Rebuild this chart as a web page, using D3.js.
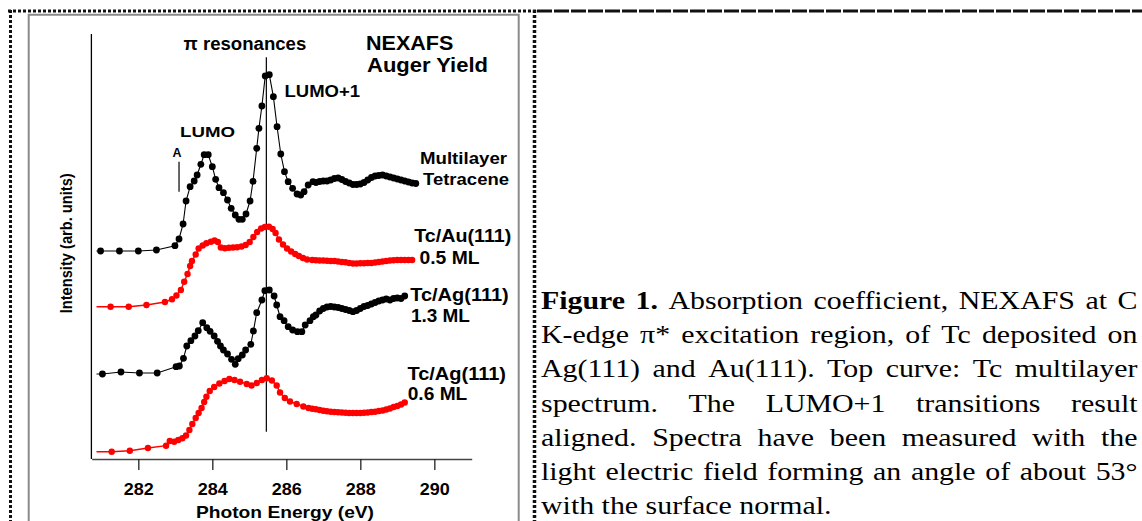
<!DOCTYPE html>
<html>
<head>
<meta charset="utf-8">
<script src="https://cdn.jsdelivr.net/npm/d3@7"></script>
<style>
  body { margin: 0; background: #fff; }
  svg { display: block; background: #fff; }
  .lbl { font-family: 'Liberation Sans', Arial, sans-serif; font-weight: bold; fill: #000; }
  .cap { font-family: 'Liberation Serif', 'Times New Roman', serif; fill: #000; }
</style>
</head>
<body>
<svg id="chart" width="1142" height="521"></svg>
<script>
'use strict';

// Spectra: [photon energy (eV), intensity (arb. units, offset included)]
const multilayer = [
  [280.98, 208], [281.49, 208], [282.0, 208], [282.49, 209], [282.99, 213.3],
  [283.1, 220], [283.21, 235], [283.29, 258], [283.4, 272.3], [283.51, 278],
  [283.59, 284], [283.69, 294.7], [283.78, 304.3], [283.89, 304.3], [284.0, 292.3],
  [284.09, 279.7], [284.18, 271.3], [284.3, 266.3], [284.41, 259], [284.51, 250.7],
  [284.62, 244], [284.72, 239.7], [284.81, 239.7], [284.91, 245], [285.02, 258],
  [285.1, 277.7], [285.2, 310.7], [285.26, 330.7], [285.34, 353], [285.43, 383],
  [285.54, 384.3], [285.65, 362.3], [285.75, 332.3], [285.85, 305], [285.95, 287.3],
  [286.05, 277.3], [286.17, 270.7], [286.29, 265], [286.39, 264], [286.48, 267.3],
  [286.59, 274], [286.72, 277.3], [286.8, 276.5], [286.9, 277.5], [287.0, 278],
  [287.1, 278], [287.2, 279], [287.3, 280.5], [287.4, 281], [287.5, 279.5],
  [287.6, 277.5], [287.7, 276], [287.8, 274.5], [287.9, 274.5], [288.0, 275],
  [288.1, 276.5], [288.2, 279], [288.3, 281.5], [288.4, 283], [288.5, 283.5],
  [288.6, 284], [288.7, 283], [288.8, 282], [288.9, 281], [289.0, 280],
  [289.1, 279], [289.2, 278], [289.3, 277], [289.4, 276], [289.5, 275.5]
];
const tcAu05 = [
  [281.25, 152.3], [281.74, 152.3], [282.22, 154], [282.72, 157], [282.91, 159.7],
  [283.03, 163.5], [283.15, 169], [283.24, 177.3], [283.33, 185], [283.4, 193],
  [283.45, 198], [283.55, 204.5], [283.63, 210.5], [283.74, 213.5], [283.84, 215.7],
  [283.96, 217.3], [284.06, 218.5], [284.15, 217], [284.23, 211.5], [284.34, 210.7],
  [284.45, 211.3], [284.56, 211.5], [284.67, 211.7], [284.79, 212.5], [284.9, 214],
  [285.01, 217], [285.11, 222], [285.21, 227], [285.32, 230.5], [285.42, 232],
  [285.53, 232.3], [285.63, 230], [285.71, 226], [285.8, 219.5], [285.91, 214.5],
  [286.02, 210.5], [286.13, 207.5], [286.24, 205], [286.34, 203], [286.45, 201],
  [286.56, 199.5], [286.7, 199], [286.8, 198.7], [286.9, 198.5], [287.0, 198.5],
  [287.1, 198.3], [287.2, 198], [287.3, 198], [287.4, 197.5], [287.5, 197],
  [287.6, 196.7], [287.7, 196], [287.8, 195.5], [287.9, 195.5], [288.0, 195.7],
  [288.1, 195.7], [288.2, 196], [288.3, 196], [288.4, 196.5], [288.5, 197],
  [288.6, 197.5], [288.7, 198], [288.8, 198.5], [288.9, 198.7], [289.0, 199],
  [289.1, 199], [289.2, 199], [289.3, 199], [289.4, 199]
];
const tcAg13 = [
  [281.03, 85], [281.53, 87], [282.03, 86], [282.51, 86], [283.02, 92.3],
  [283.11, 93], [283.22, 100.7], [283.31, 113], [283.42, 118.3], [283.53, 123],
  [283.62, 128.3], [283.74, 136.3], [283.85, 131.3], [283.94, 127.7], [284.05, 123],
  [284.14, 117.7], [284.22, 113], [284.3, 109], [284.41, 105], [284.52, 99.7],
  [284.62, 94.7], [284.7, 100.3], [284.81, 104], [284.9, 109], [285.04, 114.7],
  [285.11, 128], [285.2, 146.3], [285.34, 159], [285.42, 168.3], [285.54, 169],
  [285.67, 163], [285.74, 154], [285.83, 142.3], [285.94, 138.3], [286.05, 132.3],
  [286.17, 129], [286.3, 127.3], [286.42, 127.3], [286.51, 134], [286.64, 138.3],
  [286.73, 142.3], [286.8, 144], [286.9, 148], [287.0, 150.5], [287.1, 152],
  [287.2, 152.5], [287.3, 152], [287.4, 151.5], [287.5, 150.5], [287.6, 149.5],
  [287.7, 148.5], [287.8, 147.3], [287.9, 148.5], [288.0, 150.5], [288.1, 152.5],
  [288.2, 153.5], [288.3, 155], [288.4, 156.5], [288.5, 158], [288.6, 159],
  [288.7, 160], [288.8, 159], [288.9, 160.5], [289.0, 161], [289.1, 160.5],
  [289.2, 163]
];
const tcAg06 = [
  [281.28, 7.3], [281.77, 8.3], [282.26, 11], [282.75, 13.3], [282.85, 18],
  [282.97, 17.3], [283.08, 19], [283.19, 20.7], [283.29, 23.5], [283.38, 29],
  [283.46, 35], [283.55, 41], [283.63, 46], [283.71, 51], [283.78, 57],
  [283.84, 62.3], [283.93, 68], [284.05, 72], [284.19, 75.5], [284.33, 78],
  [284.46, 80], [284.6, 79], [284.75, 77.3], [284.93, 75], [285.06, 73.5],
  [285.2, 76], [285.34, 79], [285.47, 80.7], [285.61, 78.5], [285.74, 73.5],
  [285.83, 66.5], [285.96, 61], [286.1, 57.5], [286.28, 55], [286.46, 52.5],
  [286.6, 51], [286.7, 50.3], [286.8, 49.7], [286.9, 49], [287.0, 48.3],
  [287.1, 47.7], [287.2, 47.3], [287.3, 47], [287.4, 46.7], [287.5, 46.5],
  [287.6, 46.3], [287.7, 46], [287.8, 46], [287.9, 46], [288.0, 46],
  [288.1, 46.3], [288.2, 46.5], [288.3, 47], [288.4, 47.3], [288.5, 48],
  [288.6, 48.5], [288.7, 49.5], [288.8, 50.5], [288.9, 52], [289.0, 53],
  [289.1, 54.5], [289.2, 56.5]
];

const series = [
  { name: 'multilayer', data: multilayer, color: '#000', r: 3.4 },
  { name: 'tcAu05', data: tcAu05, color: '#ff0000', r: 3.2 },
  { name: 'tcAg13', data: tcAg13, color: '#000', r: 3.4 },
  { name: 'tcAg06', data: tcAg06, color: '#ff0000', r: 3.2 }
];

const lineStartE = 280.87;
const xTicks = [282, 284, 286, 288, 290];
const lumo1E = 285.46, lumo1Range = [27.3, 401.7];
const markA = { e: 283.1, range: [267.3, 297.3] };

const labels = [
  { text: 'π resonances', x: 183.5, y: 50, size: 18, w: 122.8 },
  { text: 'NEXAFS', x: 366, y: 50, size: 19.5, w: 87.4 },
  { text: 'Auger Yield', x: 367, y: 72, size: 19.5, w: 121 },
  { text: 'LUMO+1', x: 284.5, y: 97, size: 16, w: 75.5 },
  { text: 'LUMO', x: 180, y: 136.7, size: 15.5, w: 55 },
  { text: 'A', x: 172.5, y: 157, size: 13.5, w: 9 },
  { text: 'Multilayer', x: 420, y: 164, size: 17, w: 87 },
  { text: 'Tetracene', x: 423, y: 185, size: 17, w: 86 },
  { text: 'Tc/Au(111)', x: 414.3, y: 242, size: 18, w: 97 },
  { text: '0.5 ML', x: 419.5, y: 264.3, size: 18, w: 60 },
  { text: 'Tc/Ag(111)', x: 410.2, y: 301, size: 18, w: 98.6 },
  { text: '1.3 ML', x: 410.9, y: 322.3, size: 18, w: 59 },
  { text: 'Tc/Ag(111)', x: 407.4, y: 380, size: 18, w: 98.6 },
  { text: '0.6 ML', x: 407.7, y: 400, size: 18, w: 59.6 }
];

const captionLines = [
  'Figure 1. Absorption coefficient, NEXAFS at C',
  'K-edge π* excitation region, of Tc deposited on',
  'Ag(111) and Au(111). Top curve: Tc multilayer',
  'spectrum. The LUMO+1 transitions result',
  'aligned. Spectra have been measured with the',
  'light electric field forming an angle of about 53°',
  'with the surface normal.'
];

const svg = d3.select('#chart');

// frames
svg.append('path')
  .attr('d', 'M28.7,523 V14.7 H518.7 V523')
  .attr('fill', 'none').attr('stroke', '#8a8a8a').attr('stroke-width', 2);
svg.append('line').attr('x1', 8).attr('x2', 537).attr('y1', 11).attr('y2', 11)
  .attr('stroke', '#111').attr('stroke-width', 3).attr('stroke-dasharray', '3,2');
svg.append('line').attr('x1', 537).attr('x2', 1142).attr('y1', 11).attr('y2', 11)
  .attr('stroke', '#111').attr('stroke-width', 3).attr('stroke-dasharray', '15,2');
svg.append('line').attr('x1', 10.5).attr('x2', 10.5).attr('y1', 10).attr('y2', 521)
  .attr('stroke', '#111').attr('stroke-width', 3).attr('stroke-dasharray', '3,2');
svg.append('line').attr('x1', 534.5).attr('x2', 534.5).attr('y1', 10).attr('y2', 521)
  .attr('stroke', '#111').attr('stroke-width', 3.5).attr('stroke-dasharray', '3,2');

const x = d3.scaleLinear().domain([280.74, 291.01]).range([91.7, 471.7]);
const y = d3.scaleLinear().domain([0, 425]).range([459, 34]);

// y axis: plain line
svg.append('line')
  .attr('x1', 91.4).attr('x2', 91.4).attr('y1', y(425)).attr('y2', y(0))
  .attr('stroke', '#000').attr('stroke-width', 1.3);

const xAxis = svg.append('g')
  .attr('transform', `translate(0,${y(0)})`)
  .call(d3.axisBottom(x).tickValues(xTicks).tickSize(11).tickSizeOuter(0).tickPadding(13));
xAxis.select('.domain').attr('stroke', '#444').attr('stroke-width', 1.6);
xAxis.selectAll('.tick line').attr('stroke', '#222').attr('stroke-width', 1.3);
xAxis.selectAll('.tick text')
  .attr('class', 'lbl').attr('font-size', 17).attr('fill', '#000')
  .attr('textLength', 30).attr('lengthAdjust', 'spacingAndGlyphs');

svg.append('text').attr('class', 'lbl')
  .attr('x', 196).attr('y', 518.3).attr('font-size', 17)
  .attr('textLength', 178).attr('lengthAdjust', 'spacingAndGlyphs')
  .text('Photon Energy (eV)');

svg.append('text').attr('class', 'lbl')
  .attr('transform', 'translate(71.6,243.3) scale(1.12,1) rotate(-90)')
  .attr('text-anchor', 'middle').attr('font-size', 15)
  .attr('textLength', 140).attr('lengthAdjust', 'spacingAndGlyphs')
  .text('Intensity (arb. units)');

// reference lines
svg.append('line')
  .attr('x1', x(lumo1E)).attr('x2', x(lumo1E))
  .attr('y1', y(lumo1Range[1])).attr('y2', y(lumo1Range[0]))
  .attr('stroke', '#000').attr('stroke-width', 1.2);
svg.append('line')
  .attr('x1', x(markA.e)).attr('x2', x(markA.e))
  .attr('y1', y(markA.range[1])).attr('y2', y(markA.range[0]))
  .attr('stroke', '#000').attr('stroke-width', 1.2);

const line = d3.line().x(d => x(d[0])).y(d => y(d[1]));

series.forEach(s => {
  const g = svg.append('g').attr('class', s.name);
  g.append('path')
    .datum([[lineStartE, s.data[0][1]], ...s.data])
    .attr('d', line)
    .attr('fill', 'none')
    .attr('stroke', s.color)
    .attr('stroke-width', s.color === '#000' ? 1.1 : 1.4);
  g.selectAll('circle')
    .data(s.data)
    .enter()
    .append('circle')
    .attr('cx', d => x(d[0]))
    .attr('cy', d => y(d[1]))
    .attr('r', s.r)
    .attr('fill', s.color);
});

labels.forEach(t =>
  svg.append('text').attr('class', 'lbl')
    .attr('x', t.x).attr('y', t.y).attr('font-size', t.size)
    .attr('textLength', t.w).attr('lengthAdjust', 'spacingAndGlyphs')
    .text(t.text)
);

// caption, justified line by line
const capLeft = 541, capWidth = 596.5, capTop = 309, capLead = 34.2,
  capSize = 26, capSx = 1.15;
const capG = svg.append('g').attr('class', 'cap').attr('font-size', capSize)
  .attr('transform', `translate(${capLeft},0) scale(${capSx},1)`);
captionLines.forEach((ln, i) => {
  const words = ln.split(' '),
    yb = capTop + i * capLead,
    nodes = words.map((w, j) =>
      capG.append('text')
        .attr('y', yb)
        .attr('font-weight', i === 0 && j < 2 ? 'bold' : null)
        .text(w)
    ),
    widths = nodes.map(n => n.node().getComputedTextLength()),
    last = i === captionLines.length - 1,
    gap = last
      ? capSize * 0.25
      : (capWidth / capSx - d3.sum(widths)) / (words.length - 1);
  let cx = 0;
  nodes.forEach((n, j) => {
    n.attr('x', cx);
    cx += widths[j] + gap;
  });
});
</script>
</body>
</html>
